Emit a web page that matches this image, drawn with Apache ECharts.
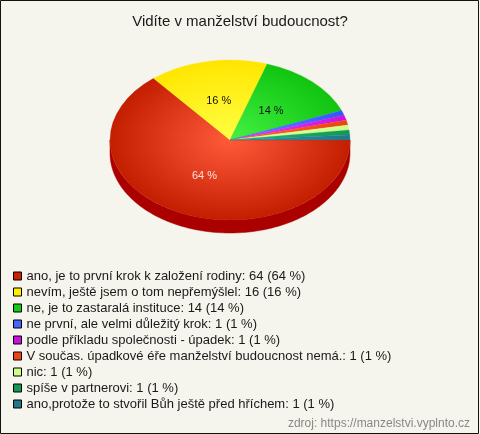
<!DOCTYPE html>
<html>
<head>
<meta charset="utf-8">
<script src="https://cdn.jsdelivr.net/npm/echarts@6/dist/echarts.min.js"></script>
<style>
html,body{margin:0;padding:0;background:#f5f4ed;}
#c{width:480px;height:434px;}
</style>
</head>
<body>
<div id="c"></div>
<script>
const titleText = 'Vidíte v manželství budoucnost?';
const sourceText = 'zdroj: https://manzelstvi.vyplnto.cz';
const categories = [
  'ano, je to první krok k založení rodiny',
  'nevím, ještě jsem o tom nepřemýšlel',
  'ne, je to zastaralá instituce',
  'ne první, ale velmi důležitý krok',
  'podle příkladu společnosti - úpadek',
  'V součas. úpadkové éře manželství budoucnost nemá.',
  'nic',
  'spíše v partnerovi',
  'ano,protože to stvořil Bůh ještě před hříchem'
];
const values = [64, 16, 14, 1, 1, 1, 1, 1, 1];

const legendColors = ['#cc2200','#ffee00','#11cc11','#4466ff','#cc11dd','#ee4411','#ccff88','#119955','#227788'];
const faceLight = ['#ff5b3b','#ffff44','#44f244','#6688ff','#e044ff','#ff6633','#e0ffaa','#22bb77','#3399aa'];
const faceDark  = ['#c41e00','#ffe600','#10c410','#3355ff','#cc11dd','#ee4411','#ccff88','#119955','#227788'];
const sideColors = ['#aa0000','#ccb800','#0a8a0a','#2233aa','#8a0a99','#aa2a0a','#99cc55','#0a6a3a','#155566'];

const total = values.reduce((a, b) => a + b, 0);
const CX = 230, CY = 140, RX = 120, RY = 80, DEPTH = 13;

function ellPt(t, dy) {
  return [CX + RX * Math.cos(t), CY + RY * Math.sin(t) + (dy || 0)];
}

function sidePolygon(s, e) {
  const pts = [];
  const n = Math.max(4, Math.ceil((e - s) / 0.02));
  for (let k = 0; k <= n; k++) pts.push(ellPt(s + (e - s) * k / n, 0));
  for (let k = n; k >= 0; k--) pts.push(ellPt(s + (e - s) * k / n, DEPTH));
  return pts;
}

function makeRender(i) {
  return function (params, api) {
    let before = 0;
    for (let k = 0; k < i; k++) before += values[k];
    const v = api.value(0);
    const a0 = before / total * Math.PI * 2;
    const a1 = (before + v) / total * Math.PI * 2;
    const children = [];
    [[0, Math.PI], [2 * Math.PI, 3 * Math.PI]].forEach(function (r) {
      const s = Math.max(a0, r[0]), e = Math.min(a1, r[1]);
      if (e > s) {
        children.push({
          type: 'polygon',
          z2: 1,
          shape: { points: sidePolygon(s, e) },
          style: { fill: sideColors[i], stroke: sideColors[i], lineWidth: 0.5 }
        });
      }
    });
    children.push({
      type: 'sector',
      z2: 10,
      shape: { cx: CX, cy: CY, r0: 0, r: RX, startAngle: a0, endAngle: a1, clockwise: true },
      scaleY: RY / RX,
      originX: CX,
      originY: CY,
      style: {
        fill: {
          type: 'radial', x: CX, y: CY, r: RX, global: true,
          colorStops: [{ offset: 0, color: faceLight[i] }, { offset: 1, color: faceDark[i] }]
        },
        stroke: faceDark[i],
        lineWidth: 0.3
      }
    });
    const pct = Math.round(v / total * 100);
    if (pct >= 5) {
      const m = (a0 + a1) / 2;
      children.push({
        type: 'text',
        z2: 20,
        x: CX + 0.5 * RX * Math.cos(m),
        y: CY + 0.5 * RY * Math.sin(m),
        style: {
          text: pct + ' %',
          fill: i === 0 ? 'rgba(255,240,235,0.92)' : '#111',
          font: '11px "Liberation Sans", Arial, sans-serif',
          align: 'center',
          verticalAlign: 'middle'
        }
      });
    }
    return { type: 'group', children: children };
  };
}

const series = categories.map(function (name, i) {
  return {
    type: 'custom',
    name: name,
    coordinateSystem: 'none',
    silent: true,
    itemStyle: { color: legendColors[i] },
    data: [[values[i]]],
    renderItem: makeRender(i)
  };
});

const chart = echarts.init(document.getElementById('c'), null, { renderer: 'canvas' });
chart.setOption({
  backgroundColor: '#f5f4ed',
  animation: false,
  title: {
    text: titleText,
    left: 'center',
    top: 9,
    textStyle: { fontSize: 15, fontWeight: 'normal', color: '#1a1a1a', fontFamily: '"Liberation Sans", Arial, sans-serif' }
  },
  legend: {
    orient: 'vertical',
    left: 8,
    top: 263,
    icon: 'rect',
    itemWidth: 8,
    itemHeight: 8,
    itemGap: 0,
    selectedMode: false,
    itemStyle: { borderColor: '#000', borderWidth: 1 },
    textStyle: { fontSize: 13, lineHeight: 16, color: '#1a1a1a', fontFamily: '"Liberation Sans", Arial, sans-serif' },
    data: categories,
    formatter: function (name) {
      const idx = categories.indexOf(name);
      const v = values[idx];
      return name + ': ' + v + ' (' + Math.round(v / total * 100) + ' %)';
    }
  },
  graphic: [
    {
      type: 'rect',
      shape: { x: 0.5, y: 0.5, width: 478, height: 433 },
      style: { fill: 'none', stroke: '#111', lineWidth: 1 },
      silent: true
    },
    {
      type: 'text',
      right: 10,
      top: 418,
      style: {
        text: sourceText,
        fill: '#888',
        font: '12px "Liberation Sans", Arial, sans-serif'
      }
    }
  ],
  series: series
});
</script>
</body>
</html>
